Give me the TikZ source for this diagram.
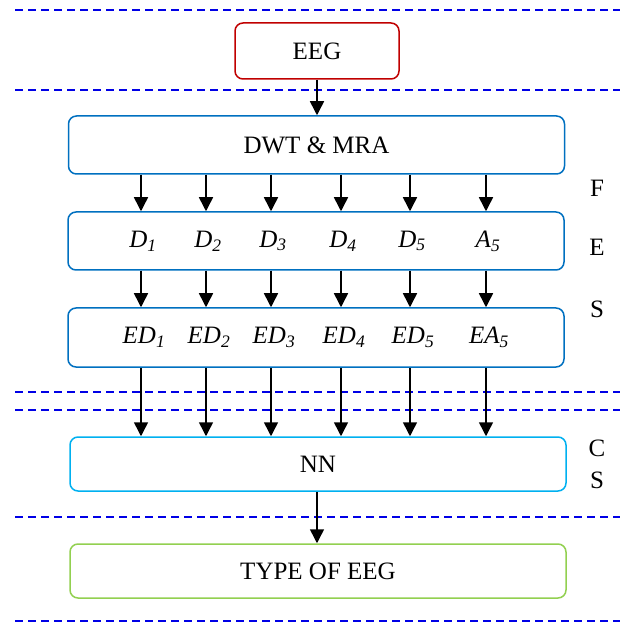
\documentclass[tikz,border=0pt]{standalone}
\usepackage{fontspec}
\setmainfont{Liberation Serif}
\usepackage{xcolor}
\usetikzlibrary{arrows.meta, calc}

\definecolor{eegred}{RGB}{192,0,0}
\definecolor{dwtblue}{RGB}{0,112,192}
\definecolor{nncyan}{RGB}{0,176,240}
\definecolor{typegreen}{RGB}{146,208,80}
\definecolor{bandblue}{RGB}{0,0,230}

\tikzset{
  stage/.style={draw, rounded corners=8pt, line width=1.5pt,
    minimum width=496pt, minimum height=58pt, inner sep=0pt},
  flow/.style={-{Triangle[length=14pt,width=14pt]}, line width=1.5pt},
  band/.style={bandblue, dash pattern=on 8pt off 5pt, line width=1.5pt},
  tag/.style={inner sep=0pt}
}

\begin{document}
\begin{tikzpicture}[x=1pt, y=-1pt, font=\fontsize{25}{30}\selectfont]
    \useasboundingbox (0,0) rectangle (632,628);
    % dashed bands
    \foreach \y in {10,90,392,410,517,621}
        \draw[band] (15,\y) -- (620,\y);
    % blocks
    \node[stage, draw=eegred, minimum width=164pt, minimum height=56pt] (eeg) at (317,51) {EEG};
    \node[stage, draw=dwtblue] (dwt) at (316.5,145) {DWT \& MRA};
    \node[stage, draw=dwtblue] (sub) at (316,241) {};
    \node[stage, draw=dwtblue, minimum height=59pt] (ene) at (316,337.5) {};
    \node[stage, draw=nncyan, minimum height=54pt] (nn) at (318,464) {NN};
    \node[stage, draw=typegreen, minimum height=54pt] (type) at (318,571) {TYPE OF EEG};
    % columns
    \foreach \x [count=\i] in {141,206,271,341,410,486}
        \coordinate (c\i) at (\x,0);
    \foreach \n [count=\i] in {D\textsubscript{1},D\textsubscript{2},D\textsubscript{3},D\textsubscript{4},D\textsubscript{5},A\textsubscript{5}}
        \node[tag, font=\fontsize{25}{30}\selectfont\itshape] (d\i) at ($(c\i |- sub)+(2,0)$) {\n};
    \foreach \n [count=\i] in {ED\textsubscript{1},ED\textsubscript{2},ED\textsubscript{3},ED\textsubscript{4},ED\textsubscript{5},EA\textsubscript{5}}
        \node[tag, font=\fontsize{25}{30}\selectfont\itshape] (ed\i) at ($(c\i |- ene)+(3,0)$) {\n};
    % arrows
    \draw[flow] (eeg.south) -- (dwt.north -| eeg.south);
    \foreach \i in {1,...,6}{
        \draw[flow] (dwt.south -| c\i) -- (sub.north -| c\i);
        \draw[flow] (sub.south -| c\i) -- (ene.north -| c\i);
        \draw[flow] (ene.south -| c\i) -- (nn.north -| c\i);
    }
    \draw[flow] (nn.south -| eeg.south) -- (type.north -| eeg.south);
    % side letters
    \node[tag] (f) at (597,188) {F};
    \node[tag] (e) at (597,247) {E};
    \node[tag] (s) at (597,309) {S};
    \node[tag] (c) at (597,448) {C};
    \node[tag] (s2) at (597,480) {S};
\end{tikzpicture}
\end{document}
